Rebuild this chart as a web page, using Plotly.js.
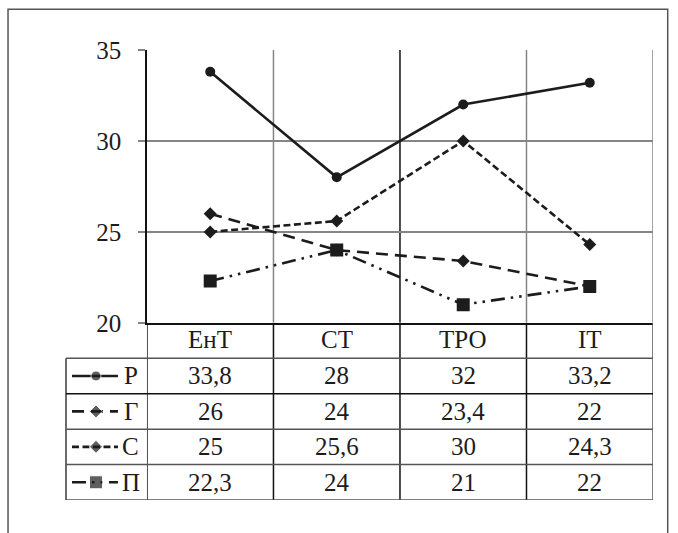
<!DOCTYPE html>
<html>
<head>
<meta charset="utf-8">
<script src="https://cdn.plot.ly/plotly-3.0.1.min.js"></script>
<style>
html,body{margin:0;padding:0;background:#fff;font-family:"Liberation Serif";}
#chart{width:678px;height:533px;}
#fontwarm{position:absolute;left:0;top:0;font-family:"Liberation Serif";font-size:25px;color:#fff;}
</style>
</head>
<body>
<div id="fontwarm">&nbsp;</div>
<div id="chart"></div>
<script>
// ---- data ----
var categories = ["ЕнТ", "СТ", "ТРО", "ІТ"];
var seriesNames = ["Р", "Г", "С", "П"];
var valuesP = [33.8, 28, 32, 33.2];   // Р
var valuesG = [26, 24, 23.4, 22];     // Г
var valuesS = [25, 25.6, 30, 24.3];   // С
var valuesPi = [22.3, 24, 21, 22];    // П
var labelsP = ["33,8", "28", "32", "33,2"];
var labelsG = ["26", "24", "23,4", "22"];
var labelsS = ["25", "25,6", "30", "24,3"];
var labelsPi = ["22,3", "24", "21", "22"];
var yTicks = [20, 25, 30, 35];

var allValues = [valuesP, valuesG, valuesS, valuesPi];
var allLabels = [labelsP, labelsG, labelsS, labelsPi];

// ---- styles ----
var INK = "#1c1c1c";
var FONT = "Liberation Serif";
var FS = 25;
var styles = [
  {dash: "solid", symbol: "circle", size: 10},
  {dash: "12px,7px", symbol: "diamond", size: 10},
  {dash: "7px,3.5px", symbol: "diamond", size: 10},
  {dash: "14px,6px,2.5px,6px,2.5px,6px", symbol: "square", size: 13}
];

var traces = [];
allValues.forEach(function (vals, i) {
  traces.push({
    type: "scatter", mode: "lines+markers",
    x: categories, y: vals, xaxis: "x", yaxis: "y",
    line: {color: INK, width: 2.6, dash: styles[i].dash},
    marker: {color: INK, symbol: styles[i].symbol, size: styles[i].size},
    name: seriesNames[i], hoverinfo: "skip"
  });
});
// legend samples in the table's first column (row centres 3.5 .. 0.5)
allValues.forEach(function (vals, i) {
  var row = 3.5 - i;
  traces.push({
    type: "scatter", mode: "lines+markers",
    x: [72, 96, 118], y: [row, row, row], xaxis: "x2", yaxis: "y2",
    line: {color: INK, width: 2.6, dash: styles[i].dash},
    marker: {color: INK, symbol: styles[i].symbol, size: [0, styles[i].size, 0]},
    hoverinfo: "skip"
  });
});

var shapes = [];
var annotations = [];
var GRID = "#858585";
var TLINE = "#3a3a3a";

// vertical separators: chart part
[0.5, 1.5, 2.5, 3.5].forEach(function (xv) {
  shapes.push({type: "line", xref: "x", yref: "y", x0: xv, x1: xv, y0: 20, y1: 35,
    line: {color: xv === 1.5 ? "#111" : GRID, width: 1.5}, layer: "below"});
});
// vertical separators: table part
[-0.5, 0.5, 1.5, 2.5, 3.5].forEach(function (xv) {
  shapes.push({type: "line", xref: "x", yref: "y2", x0: xv, x1: xv, y0: 0, y1: 5,
    line: {color: xv === 3.5 ? "#555" : "#111", width: 1.5}});
});
// table left border
shapes.push({type: "line", xref: "paper", yref: "y2", x0: 0, x1: 0, y0: 0, y1: 4,
  line: {color: TLINE, width: 1.5}});
// table horizontal lines
[4, 3, 2, 1, 0].forEach(function (yv) {
  shapes.push({type: "line", xref: "paper", yref: "y2", x0: 0, x1: 1, y0: yv, y1: yv,
    line: {color: yv === 3 ? "#111" : "#555", width: 1.5}});
});
// outer frame
shapes.push({type: "rect", xref: "paper", yref: "paper",
  x0: (8 - 66) / 587.3, x1: (668 - 66) / 587.3, y0: -0.2, y1: (533 - 9 - 33) / 450.3,
  line: {color: "#555", width: 1.5}});

// header row (category names)
categories.forEach(function (c) {
  annotations.push({xref: "x", yref: "y2", x: c, y: 4.52,
    text: c, showarrow: false, font: {family: FONT, size: FS, color: INK},
    xanchor: "center", yanchor: "middle"});
});
// table values
allLabels.forEach(function (labs, i) {
  labs.forEach(function (t, j) {
    annotations.push({xref: "x", yref: "y2", x: categories[j], y: 3.5 - i,
      text: t, showarrow: false, font: {family: FONT, size: FS, color: INK},
      xanchor: "center", yanchor: "middle"});
  });
  annotations.push({xref: "x2", yref: "y2", x: 131, y: 3.5 - i,
    text: seriesNames[i], showarrow: false, font: {family: FONT, size: FS, color: INK},
    xanchor: "center", yanchor: "middle"});
});

var chartBottom = 177.3 / 450.3;
var layout = {
  width: 678, height: 533,
  margin: {l: 66, r: 24.7, t: 49.7, b: 33, pad: 0},
  paper_bgcolor: "#fff", plot_bgcolor: "rgba(0,0,0,0)",
  showlegend: false,
  font: {family: FONT, size: FS, color: INK},
  xaxis: {
    type: "category", categoryarray: categories, range: [-0.5, 3.5],
    domain: [81 / 587.3, 1], anchor: "y",
    showgrid: false, zeroline: false, showline: true, linecolor: "#111", linewidth: 2,
    ticks: "", showticklabels: false, fixedrange: true
  },
  yaxis: {
    range: [20, 35], tickvals: yTicks, ticktext: yTicks.map(String),
    domain: [chartBottom, 1], anchor: "x",
    showgrid: true, gridcolor: GRID, gridwidth: 1.5, zeroline: false,
    showline: true, linecolor: "#111", linewidth: 1.5,
    ticks: "outside", ticklen: 7, tickcolor: GRID, tickwidth: 1.5,
    ticklabelstandoff: 12,
    tickfont: {family: FONT, size: FS, color: INK}, fixedrange: true
  },
  xaxis2: {domain: [0, 81 / 587.3], range: [66, 147], anchor: "y2", visible: false, fixedrange: true},
  yaxis2: {domain: [0, chartBottom], range: [0, 5], anchor: "x2", visible: false, fixedrange: true},
  shapes: shapes,
  annotations: annotations
};

Plotly.newPlot("chart", traces, layout, {displayModeBar: false});
</script>
</body>
</html>
